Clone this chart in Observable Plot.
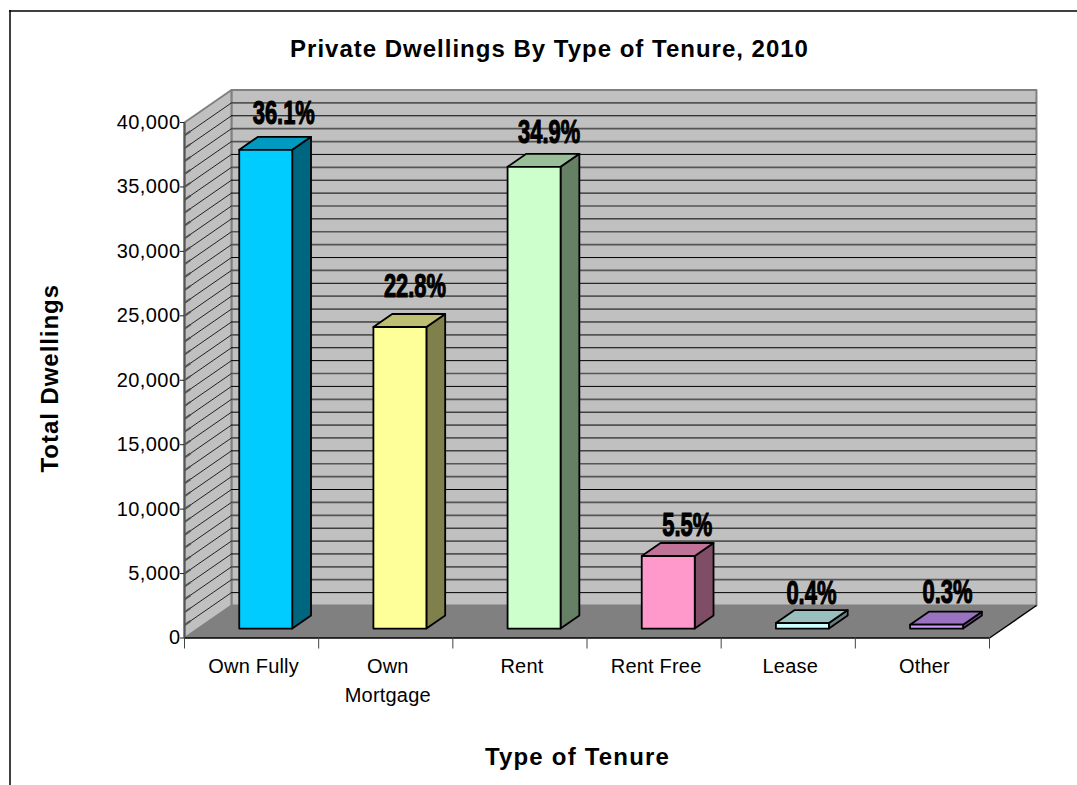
<!DOCTYPE html>
<html>
<head>
<meta charset="utf-8">
<script src="https://cdn.jsdelivr.net/npm/d3@7"></script>
<script src="https://cdn.jsdelivr.net/npm/@observablehq/plot@0.6"></script>
<style>
html,body{margin:0;padding:0;background:#fff;overflow:hidden}
svg{display:block}
.ls-title text{letter-spacing:1px}
.ls-xtitle text{letter-spacing:1.2px}
.ls-ytitle text{letter-spacing:0.95px}
.ls-tick text{letter-spacing:0.45px}
.ls-cat text{letter-spacing:0.2px}
</style>
</head>
<body>
<div id="chart"></div>
<script>
const categories = ["Own Fully", "Own\nMortgage", "Rent", "Rent Free", "Lease", "Other"];
const values = [37150, 23400, 35830, 5630, 430, 300];
const shares = ["36.1%", "22.8%", "34.9%", "5.5%", "0.4%", "0.3%"];
const yTicks = [0, 5000, 10000, 15000, 20000, 25000, 30000, 35000, 40000];
const gridValues = d3.range(1000, 40000, 1000);
const darkGrid = [38,35,33,32,30,27,25,22,20,19,17,15,14,12,9,6,4,1].map(d => d * 1000);
const frontColors = ["#00CCFF", "#FFFF99", "#CCFFCC", "#FF99CC", "#CCFFFF", "#CC99FF"];
const topColors   = ["#0099BF", "#BFBF73", "#99BF99", "#BF7399", "#99BFBF", "#9973BF"];
const sideColors  = ["#006680", "#80804D", "#668066", "#804D66", "#668080", "#664D80"];

const FONT = "'Liberation Sans', Arial, sans-serif";
// 3D oblique projection: depth z in 0..1 shifts a point right and up, in data units
const DX = 0.35, DY = 2522, Z0 = 0.29, Z1 = 0.69, HALF = 0.1975;
const P = (x, y, z = 0) => ({x: x + z * DX, y: y + z * DY});
const poly = (pts, fill, stroke, strokeWidth = 1) =>
  Plot.line(pts, {x: "x", y: "y", fill, stroke, strokeWidth, curve: "linear-closed"});

const bars = categories.flatMap((c, i) => {
  const a = i + 0.504 - HALF, b = i + 0.504 + HALF, v = values[i];
  return [
    poly([P(b,0,Z0), P(b,0,Z1), P(b,v,Z1), P(b,v,Z0)], sideColors[i], "#000", 1.8),
    poly([P(a,v,Z0), P(b,v,Z0), P(b,v,Z1), P(a,v,Z1)], topColors[i], "#000", 1.8),
    poly([P(a,0,Z0), P(b,0,Z0), P(b,v,Z0), P(a,v,Z0)], frontColors[i], "#000", 1.8)
  ];
});

// small per-label nudges (px) so each percentage sits where the original put it
const labelDx = [18, 15, 15, 19, 9, 11];
const labelDy = [-37, -41, -35, -31, -30, -33];
const labels = shares.map((s, i) =>
  Plot.text([s], {
    x: P(i + 0.504, values[i], Z0).x, y: P(i + 0.504, values[i], Z0).y,
    text: d => d, dx: labelDx[i], dy: labelDy[i], className: "share",
    fontFamily: FONT, fontWeight: "bold",
    fontSize: 34, fill: "#000", stroke: "#000", strokeWidth: 1.2
  })
);

const wallBack = [P(0,0,1), P(6,0,1), P(6,40000,1), P(0,40000,1)];
const wallSide = [P(0,0,0), P(0,0,1), P(0,40000,1), P(0,40000,0)];
const floor = [P(0,0,0), P(6,0,0), P(6,0,1), P(0,0,1)];

const plot = Plot.plot({
  width: 1077, height: 785,
  marginLeft: 184, marginRight: 88, marginTop: 122, marginBottom: 147.5,
  style: {background: "#fff", overflow: "visible"},
  x: {domain: [0, 6], axis: null},
  y: {domain: [0, 40000], axis: null},
  marks: [
    poly(wallBack, "#C0C0C0", "#808080", 2),
    poly(wallSide, "#C0C0C0", "#808080", 2),
    Plot.ruleY(gridValues.filter(v => !darkGrid.includes(v)), {
      x1: DX, x2: 6 + DX, y: v => v + DY, stroke: "#555", strokeWidth: 1.7
    }),
    Plot.ruleY(darkGrid, {
      x1: DX, x2: 6 + DX, y: v => v + DY, stroke: "#000", strokeWidth: 1
    }),
    Plot.link(gridValues, {
      x1: 0, y1: v => v, x2: DX, y2: v => v + DY, stroke: "#222", strokeWidth: 1
    }),
    Plot.link(gridValues, {
      x1: 0, y1: v => v, x2: DX * 0.13, y2: v => v + DY * 0.13, stroke: "#555", strokeWidth: 2
    }),
    poly(floor, "#808080", "none"),
    Plot.link([6], {x1: d => d, y1: 0, x2: d => d + DX, y2: DY, stroke: "#000", strokeWidth: 1.4}),
    Plot.ruleY([0], {stroke: "#000", strokeWidth: 1.6}),
    Plot.ruleX([0], {y1: 0, y2: 40000, stroke: "#555", strokeWidth: 2}),
    ...bars,
    ...labels,
    Plot.axisY({
      ticks: yTicks, tickFormat: d3.format(","), tickSize: 4, tickPadding: 0, label: null,
      fontFamily: FONT, fontSize: 20, fill: "#000", stroke: "#222", anchor: "left", className: "ls-tick"
    }),
    Plot.axisX({
      ticks: d3.range(0, 7), tickFormat: () => "", tickSize: 11, label: null,
      stroke: "#444", anchor: "bottom"
    }),
    Plot.text(categories, {
      x: (d, i) => i + 0.515, y: 0, text: d => d, dy: 14, lineAnchor: "top",
      lineHeight: 1.45, fontFamily: FONT, fontSize: 20, fill: "#000", className: "ls-cat"
    }),
    Plot.text(["Private Dwellings By Type of Tenure, 2010"], {
      frameAnchor: "top-left", text: d => d, dx: 365, dy: -83, textAnchor: "middle",
      fontFamily: FONT, fontWeight: "bold", fontSize: 24, fill: "#000", className: "ls-title"
    }),
    Plot.text(["Type of Tenure"], {
      frameAnchor: "bottom-left", text: d => d, dx: 393, dy: 127, textAnchor: "middle",
      fontFamily: FONT, fontWeight: "bold", fontSize: 24, fill: "#000", className: "ls-xtitle"
    }),
    Plot.text(["Total Dwellings"], {
      frameAnchor: "left", text: d => d, dx: -134, dy: -2, rotate: -90, textAnchor: "middle",
      fontFamily: FONT, fontWeight: "bold", fontSize: 24, fill: "#000", className: "ls-ytitle"
    }),
    Plot.ruleY([40000], {x1: -175 / 134.17, x2: 7, dy: -111.5, stroke: "#000", strokeWidth: 1.5}),
    Plot.ruleX([0], {y1: 48690, y2: -11500, dx: -174.5, stroke: "#000", strokeWidth: 1.5})
  ]
});
// the original's percentage labels are squeezed sideways: fit each to its width
const shareWidths = [62, 62, 62, 50, 50, 50];
d3.select(plot).selectAll(".share text").each(function(_, i) {
  this.setAttribute("textLength", shareWidths[i]);
  this.setAttribute("lengthAdjust", "spacingAndGlyphs");
});
document.getElementById("chart").appendChild(plot);
</script>
</body>
</html>
